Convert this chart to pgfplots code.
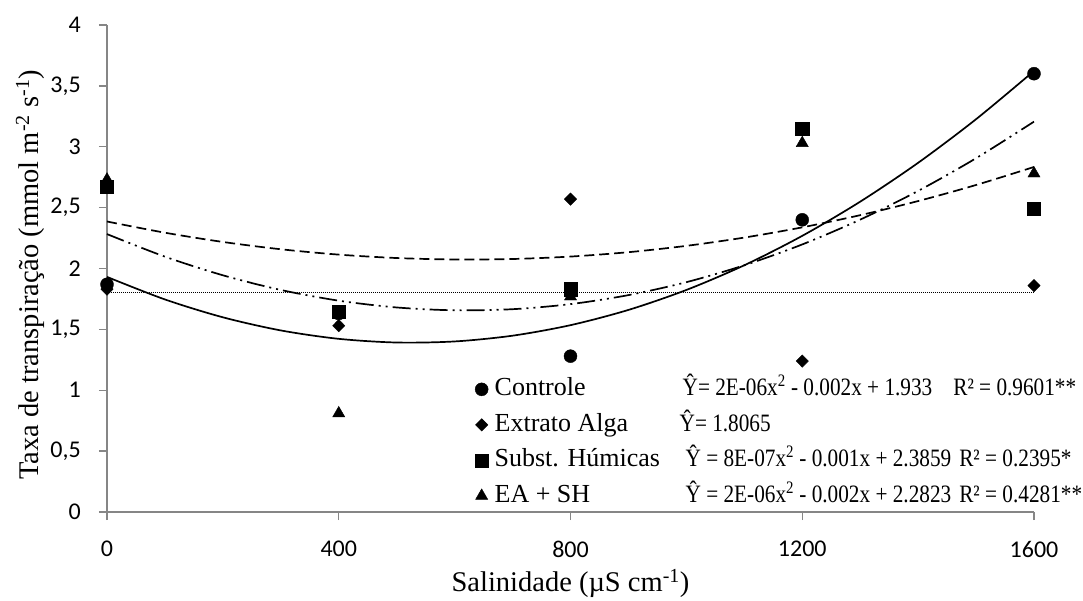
\documentclass[border=0pt]{standalone}
\usepackage{fontspec}
\setmainfont{Liberation Serif}
\newfontfamily\tickfont{Carlito}
\newfontfamily\eqfontfam{Liberation Serif}[FakeStretch=0.85]
\usepackage{pgfplots}
\pgfplotsset{compat=1.18}
\definecolor{axisgray}{RGB}{134,134,134}
\newcommand\eqf{\eqfontfam\fontsize{25bp}{30bp}\selectfont}
\newcommand\lgf{\fontsize{26bp}{30bp}\selectfont}
\pgfplotsset{markonly legend/.style={legend image code/.code={\path[draw=none,fill=none] (0bp,-1bp) rectangle (20bp,1bp);
    \path[##1,draw=none] plot[only marks] coordinates {(7bp,0bp)};}}}
\begin{document}
\begin{tikzpicture}
\begin{axis}[
  scale only axis, width=927bp, height=487bp,
  xmin=0, xmax=1600, ymin=0, ymax=4,
  axis x line*=bottom, axis y line*=left,
  axis line style={draw=axisgray, line width=1.3bp, -},
  xtick={0,400,800,1200,1600}, xticklabels={0,400,800,1200,1600},
  ytick={0,0.5,1,1.5,2,2.5,3,3.5,4},
  yticklabels={0,{0,5},1,{1,5},2,{2,5},3,{3,5},4},
  tick align=outside, major tick length=8bp,
  tick style={draw=axisgray, line width=1.3bp},
  ticklabel style={font=\tickfont\fontsize{24bp}{28bp}\selectfont, inner sep=0pt},
  yticklabel style={anchor=east, xshift=-18bp},
  xticklabel style={anchor=north, yshift=-21bp},
  xlabel={Salinidade (µS cm\textsuperscript{-1})},
  ylabel={Taxa de transpiração (mmol m\textsuperscript{-2} s\textsuperscript{-1})},
  label style={font=\fontsize{28.5bp}{32bp}\selectfont},
  xlabel style={at={(axis description cs:0.5,-0.146)}, anchor=center},
  ylabel style={at={(axis description cs:-0.0831,0.487)}, anchor=center},
  clip=false,
  legend style={draw=none, fill=none, inner sep=0pt, outer sep=0pt,
    at={(axis cs:634.6,1.11)}, anchor=north west,
    font=\lgf,
    nodes={font=\lgf, inner sep=0pt, text height=19bp, text depth=6bp},
    row sep=10.5bp, column sep=0pt},
  legend cell align=left,
]
% trend curves
\addplot[forget plot, black, line width=1.7bp, smooth] coordinates {
(0,1.931)(100,1.7458)(200,1.5992)(300,1.4913)(400,1.4223)(500,1.3921)(600,1.4008)(700,1.4482)(800,1.5346)(900,1.6598)(1000,1.8238)(1100,2.0267)(1200,2.2683)(1300,2.5489)(1400,2.8682)(1500,3.2264)(1600,3.6226)};
\addplot[forget plot, black, line width=1.7bp, dash pattern=on 10bp off 5bp, smooth] coordinates {
(0,2.386)(100,2.294)(200,2.218)(300,2.158)(400,2.114)(500,2.086)(600,2.074)(700,2.078)(800,2.098)(900,2.134)(1000,2.186)(1100,2.254)(1200,2.338)(1300,2.438)(1400,2.554)(1500,2.686)(1600,2.834)};
\addplot[forget plot, black, line width=1.7bp, dash pattern=on 18bp off 5bp on 2bp off 5bp on 2bp off 5bp, smooth] coordinates {
(0,2.2826)(100,2.0972)(200,1.9443)(300,1.8238)(400,1.7357)(500,1.68)(600,1.6567)(700,1.6658)(800,1.7074)(900,1.7814)(1000,1.8877)(1100,2.0266)(1200,2.1977)(1300,2.4014)(1400,2.6373)(1500,2.9058)(1600,3.2062)};
\addplot[forget plot, black, line width=0.9bp, dash pattern=on 1bp off 1bp] coordinates {(0,1.8065)(1600,1.8065)};
% data points
\addplot[forget plot, only marks, mark=*, mark size=6.5bp, black] coordinates {
(0,1.87)(400,1.63)(800,1.28)(1200,2.40)(1600,3.60)};
\addplot[forget plot, only marks, mark=diamond*, mark size=6.2bp, mark options={xscale=1.33}, black] coordinates {
(0,1.83)(400,1.53)(800,2.57)(1200,1.24)(1600,1.86)};
\addplot[forget plot, only marks, mark=triangle*, mark size=7bp, black] coordinates {
(0,2.73)(400,0.81)(800,1.77)(1200,3.03)(1600,2.78)};
\addplot[forget plot, only marks, mark=square*, mark size=6.6bp, black] coordinates {
(0,2.67)(400,1.645)(800,1.83)(1200,3.15)(1600,2.49)};
% legend
\addlegendimage{markonly legend, mark=*, mark size=6.5bp, black}
\addlegendentry{\lgf\makebox[188bp][l]{Controle}{\eqf Ŷ= 2E-06x\textsuperscript{2} - 0.002x + 1.933\hspace{21bp}R² = 0.9601**}}
\addlegendimage{markonly legend, mark=diamond*, mark size=6.2bp, mark options={xscale=1.33}, black}
\addlegendentry{\lgf\makebox[185bp][l]{Extrato Alga}{\eqf Ŷ= 1.8065}}
\addlegendimage{markonly legend, mark=square*, mark size=6.6bp, black}
\addlegendentry{\lgf\makebox[191bp][l]{Subst. Húmicas}{\eqf Ŷ = 8E-07x\textsuperscript{2} - 0.001x + 2.3859\hspace{8bp}R² = 0.2395*}}
\addlegendimage{markonly legend, mark=triangle*, mark size=7bp, black}
\addlegendentry{\lgf\makebox[191bp][l]{EA + SH}{\eqf Ŷ = 2E-06x\textsuperscript{2} - 0.002x + 2.2823\hspace{8bp}R² = 0.4281**}}
\end{axis}
\pgfresetboundingbox
\path[use as bounding box] (current axis.south west) ++(-107bp,-89bp) rectangle ++(1083bp,601bp);
\end{tikzpicture}
\end{document}
